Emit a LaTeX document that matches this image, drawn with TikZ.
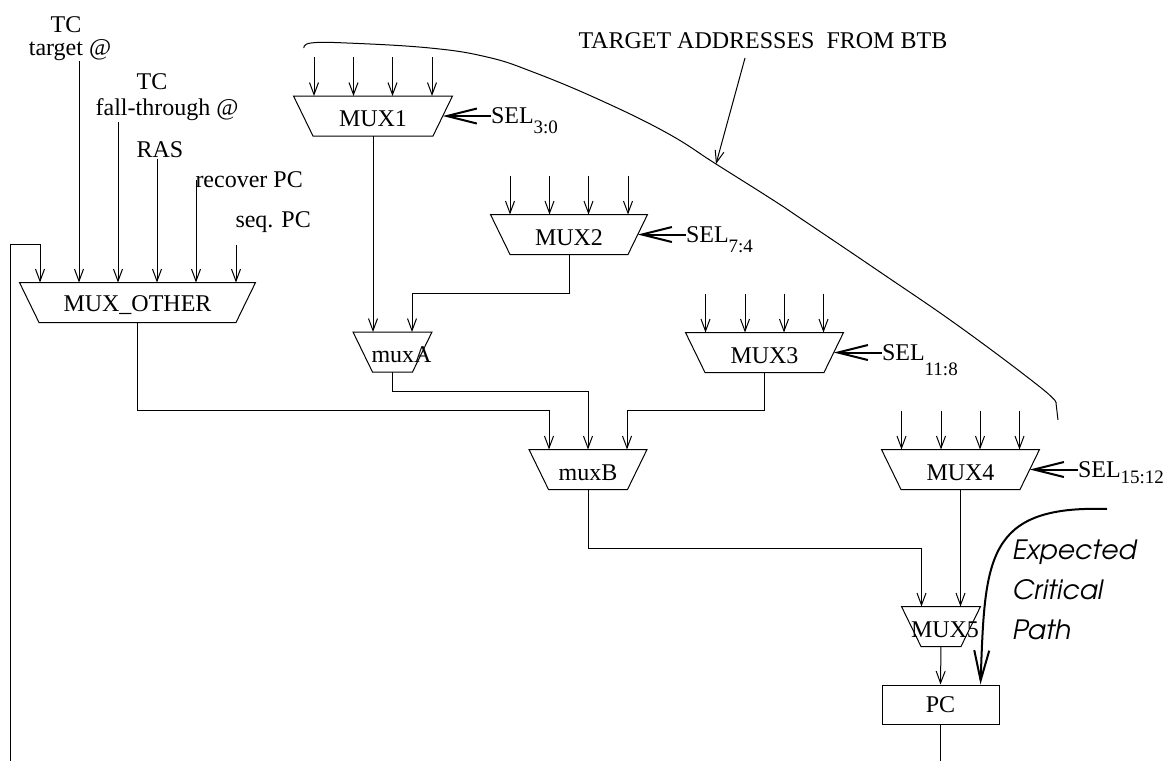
\documentclass[tikz,border=0pt]{standalone}
\usepackage[T1]{fontenc}
\usepackage{fontspec}
\setmainfont{Liberation Serif}
\usetikzlibrary{arrows.meta,calc,positioning}

\newcommand{\cpfont}{\fontencoding{T1}\fontfamily{pag}\fontshape{sl}\fontsize{13.3}{20}\selectfont}
\newcommand{\selbits}[2]{SEL\smash{\raisebox{-#2}{\fontsize{9.5}{10}\selectfont #1}}}

\tikzset{
  mux/.style={minimum width=#1, minimum height=19.5pt, inner sep=0pt},
  muxtext/.style={inner sep=0pt, yshift=-1.5pt},
  wire/.style={-{Straight Barb[length=6pt,width=4.5pt]}},
  selarrow/.style={{Straight Barb[length=15pt,width=7.5pt]}-, line width=1pt},
  sellabel/.style={inner sep=0pt, right=19pt of #1},
  lbl/.style={inner sep=0pt},
}

\begin{document}
\begin{tikzpicture}[x=0.5pt, y=-0.5pt, line width=0.5pt, font=\fontsize{12}{14}\selectfont]
  \useasboundingbox (0,0) rectangle (1169,761);

  \node[mux=117.5pt, label={[muxtext]center:MUX\_OTHER}] (mo) at (137.5,302.5) {};
  \node[mux=79pt, label={[muxtext]center:MUX1}] (m1) at (373,116) {};
  \node[mux=78pt, label={[muxtext]center:MUX2}] (m2) at (569,234.5) {};
  \node[mux=78.5pt, label={[muxtext]center:MUX3}] (m3) at (764.5,352.5) {};
  \node[mux=78.5pt, label={[muxtext]center:MUX4}] (m4) at (960.5,469.5) {};
  \node[mux=39pt, label={[muxtext, xshift=4.5pt]center:muxA}] (ma) at (392.5,352) {};
  \node[mux=58.5pt, label={[muxtext]center:muxB}] (mb) at (588,469.5) {};
  \node[mux=39pt, label={[muxtext, xshift=2pt]center:MUX5}] (m5) at (941,626.5) {};
  \node[draw, minimum width=58.5pt, minimum height=19.5pt, inner sep=0pt] (pc) at (940.5,704.5) {PC};

  \foreach \m in {mo,m1,m2,m3,m4,ma,mb,m5}
    \draw (\m.north west) -- (\m.north east) -- ($(\m.south east)+(-19.5,0)$)
      -- ($(\m.south west)+(19.5,0)$) -- cycle;

  \node[sellabel=m1.east] (s1) {\selbits{3:0}{5pt}};
  \node[sellabel=m2.east] (s2) {\selbits{7:4}{5pt}};
  \node[sellabel=m3.east] (s3) {\selbits{11:8}{7.5pt}};
  \node[sellabel=m4.east] (s4) {\selbits{15:12}{3.3pt}};
  \foreach \i in {1,...,4}
    \draw[selarrow] ($(m\i.east)+(-9.75,0)$) -- (s\i.west);

  \foreach \m in {m1,m2,m3,m4}
    \foreach \dx in {-59,-19.5,19.5,59}
      \draw[wire] ($(\m.north)+(\dx,-39)$) -- ($(\m.north)+(\dx,0)$);

  \foreach \i/\dx in {1/-97.5,2/-58.5,3/-19.5,4/19.5,5/58.5,6/98.5}
    \coordinate (mo-in\i) at ($(mo.north)+(\dx,0)$);

  \node[lbl] (tc1) at (66,25) {TC};
  \node[lbl] (tga) at (70,50) {target @};
  \node[lbl] (tc2) at (152,82) {TC};
  \node[lbl] (fta) at (167,110) {fall-through @};
  \node[lbl] (ras) at (160,150) {RAS};
  \node[lbl, anchor=west] (rec) at (195,180) {recover PC};
  \node[lbl, anchor=west] (seq) at (235,222) {seq. PC};

  \draw[wire] (tga.south -| mo-in2) -- (mo-in2);
  \draw[wire] (fta.south -| mo-in3) -- (mo-in3);
  \draw[wire] (ras.south -| mo-in4) -- (mo-in4);
  \draw[wire] (rec.west -| mo-in5) -- (mo-in5);
  \draw[wire, shorten <=6pt] (seq.south -| mo-in6) -- (mo-in6);

  \coordinate (fbbot) at (10,761);
  \draw[wire] (fbbot) |- ($(mo-in1)+(0,-38)$) -- (mo-in1);

  \draw[wire] (m1.south) -- (m1.south |- ma.north);
  \draw[wire] (m2.south) -- ++(0,39) -| ($(ma.north)+(19.5,0)$);
  \draw[wire] (mo.south) -- ++(0,88) -| ($(mb.north)+(-39,0)$);
  \draw[wire] (ma.south) -- ++(0,19) -| (mb.north);
  \draw[wire] (m3.south) -- ++(0,38) -| ($(mb.north)+(39,0)$);
  \draw[wire] (mb.south) -- ++(0,59) -| ($(m5.north)+(-19.5,0)$);
  \draw[wire] (m4.south) -- (m4.south |- m5.north);
  \draw[wire] (m5.south) -- (pc.north);
  \coordinate (pcout) at (940.5,761);
  \draw (pc.south) -- (pcout);

  \draw plot[smooth, tension=0.7] coordinates {(304,48) (311,43) (347,43) (430,48)
    (487,57) (533,72) (600,100) (667,133) (716,164) (773,200) (803,220) (880,272)
    (960,327) (1040,387) (1056,403)} -- (1058,420);

  \node[lbl, anchor=base west] (btb) at (578,48) {TARGET ADDRESSES\ \ FROM BTB};
  \coordinate (btbtip) at (716,164);
  \draw[wire] ($(btb.base west)+(167,10)$) -- (btbtip);

  \node[lbl, anchor=west, align=left, font=\cpfont] (cp) at (1011,590) {Expected\\Critical\\Path};
  \coordinate (cpstart) at (1107,509);
  \draw[line width=1pt, -{Straight Barb[length=15pt,width=7.5pt]}] (cpstart)
    .. controls (985,505) and (985,560) .. ($(pc.north east)+(-19,0)$);
\end{tikzpicture}
\end{document}
